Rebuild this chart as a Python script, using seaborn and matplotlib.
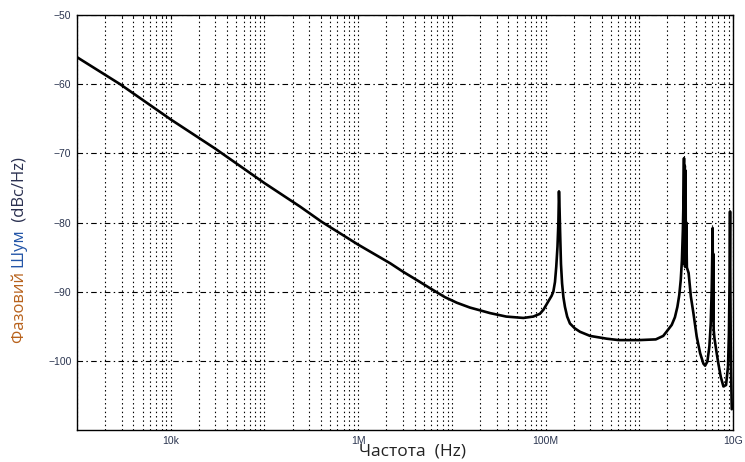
import numpy as np
import pandas as pd
import matplotlib
matplotlib.use("Agg")
import matplotlib.pyplot as plt
import matplotlib.ticker as mticker
import seaborn as sns

# ---- data ----
freq_hz = [1.0e3, 2.88e3, 1.0e4, 2.97e4, 1.0e5, 2.4e5, 4.08e5, 1.0e6, 2.2e6,
           3.0e6, 4.57e6, 5.85e6, 8.45e6, 1.13e7, 1.56e7, 2.0e7, 2.56e7, 3.8e7,
           5.8e7, 7.4e7, 8.7e7, 9.5e7, 1.07e8, 1.16e8, 1.21e8, 1.26e8, 1.30e8,
           1.34e8, 1.37e8, 1.39e8, 1.41e8, 1.43e8, 1.46e8, 1.50e8, 1.55e8,
           1.61e8, 1.70e8, 1.82e8, 2.05e8, 2.33e8, 2.99e8, 4.5e8, 6.0e8, 1.0e9,
           1.5e9, 1.8e9, 1.95e9, 2.22e9, 2.40e9, 2.55e9, 2.67e9, 2.77e9, 2.85e9,
           2.92e9, 2.97e9, 3.0e9, 3.02e9, 3.04e9, 3.06e9, 3.08e9, 3.10e9, 3.12e9,
           3.14e9, 3.17e9, 3.22e9, 3.36e9, 3.55e9, 3.78e9, 4.1e9, 4.46e9, 4.83e9,
           5.04e9, 5.33e9, 5.6e9, 5.79e9, 5.93e9, 6.02e9, 6.07e9, 6.10e9, 6.14e9,
           6.18e9, 6.22e9, 6.35e9, 6.7e9, 7.0e9, 7.4e9, 7.9e9, 8.43e9, 8.85e9,
           9.05e9, 9.2e9, 9.3e9, 9.38e9, 9.45e9, 9.55e9, 9.7e9]
noise_dbc = [-56.1, -60.0, -65.1, -69.3, -74.3, -77.7, -79.9, -83.2, -85.9,
             -87.1, -88.6, -89.5, -90.8, -91.6, -92.3, -92.7, -93.1, -93.6,
             -93.8, -93.6, -93.2, -92.6, -91.4, -90.6, -90.0, -88.6, -86.4,
             -83.5, -80.0, -75.5, -78.0, -81.5, -86.0, -88.8, -90.8, -92.2,
             -93.6, -94.6, -95.3, -95.8, -96.4, -96.8, -97.0, -97.0, -96.9,
             -96.4, -95.8, -94.8, -93.7, -92.2, -90.5, -88.3, -85.5, -81.0,
             -76.0, -70.7, -86.0, -73.0, -71.8, -86.4, -74.0, -72.5, -85.5,
             -80.0, -86.5, -87.3, -90.7, -93.1, -96.5, -98.9, -100.4, -100.7,
             -100.1, -97.9, -94.6, -89.5, -84.0, -80.8, -94.0, -84.5, -90.0,
             -95.5, -96.8, -98.9, -100.5, -102.3, -103.7, -103.5, -100.8,
             -96.0, -88.0, -78.4, -90.0, -97.0, -102.0, -107.0]

x_tick_vals = [1e4, 1e6, 1e8, 1e10]
x_tick_labels = ["10k", "1M", "100M", "10G"]
y_tick_vals = [-100, -90, -80, -70, -60, -50]

df = pd.DataFrame({"freq": freq_hz, "noise": noise_dbc})

sns.set_style("white")
plt.rcParams["font.family"] = ["Liberation Sans", "DejaVu Sans"]

fig = plt.figure(figsize=(7.45, 4.62), dpi=100)
ax = fig.add_axes([77 / 745, 1 - 430 / 462, (733 - 77) / 745, (430 - 15) / 462])

sns.lineplot(data=df, x="freq", y="noise", ax=ax, color="black", lw=1.9,
             estimator=None, sort=False)

ax.set_xscale("log")
ax.set_xlim(1e3, 1e10)
ax.set_ylim(-110, -50)

# ticks
ax.xaxis.set_major_locator(mticker.FixedLocator([10.0 ** k for k in range(3, 11)]))
lab_map = dict(zip(x_tick_vals, x_tick_labels))
ax.xaxis.set_major_formatter(mticker.FuncFormatter(
    lambda v, p: next((l for t, l in lab_map.items() if abs(np.log10(v) - np.log10(t)) < 1e-6), "")))
ax.xaxis.set_minor_locator(mticker.LogLocator(base=10, subs=np.arange(2, 10), numticks=100))
ax.xaxis.set_minor_formatter(mticker.NullFormatter())
ax.set_yticks(y_tick_vals)

tick_col = "#2b3550"
ax.tick_params(axis="both", which="both", direction="in", top=True, right=True,
               colors="black", labelcolor=tick_col, labelsize=7.5, pad=4)
ax.tick_params(axis="both", which="major", length=3)
ax.tick_params(axis="both", which="minor", length=2)

# grid
ax.grid(False)
ax.grid(True, which="major", axis="x", color="black", lw=0.8, ls=(0, (1.3, 2.6)))
ax.grid(True, which="minor", axis="x", color="black", lw=0.8, ls=(0, (1.3, 2.6)))
ax.grid(True, which="major", axis="y", color="black", lw=0.8, ls=(0, (5, 3, 1.3, 3)))

for s in ax.spines.values():
    s.set_color("black")
    s.set_linewidth(1.0)

ax.set_xlabel("")
ax.set_ylabel("")
fig.text(412 / 745, 1 - 452 / 462, "Частота  (Hz)", ha="center", va="center",
         fontsize=12.5, color="#222222", family=["Open Sans", "DejaVu Sans"])

# multi-coloured y label
parts = [("Фазовий ", "#b8621c"), ("Шум ", "#2456a8"), (" (dBc/Hz)", "#2a3050")]
fig.canvas.draw()
renderer = fig.canvas.get_renderer()
y_px = 343.0
for txt, col in parts:
    t = fig.text(20 / 745, 1 - y_px / 462, txt, rotation=90, rotation_mode="anchor",
                 ha="left", va="center", fontsize=12, color=col,
                 family=["Open Sans", "DejaVu Sans"])
    bb = t.get_window_extent(renderer=renderer)
    y_px -= bb.height

fig.savefig("out.png", dpi=100)
